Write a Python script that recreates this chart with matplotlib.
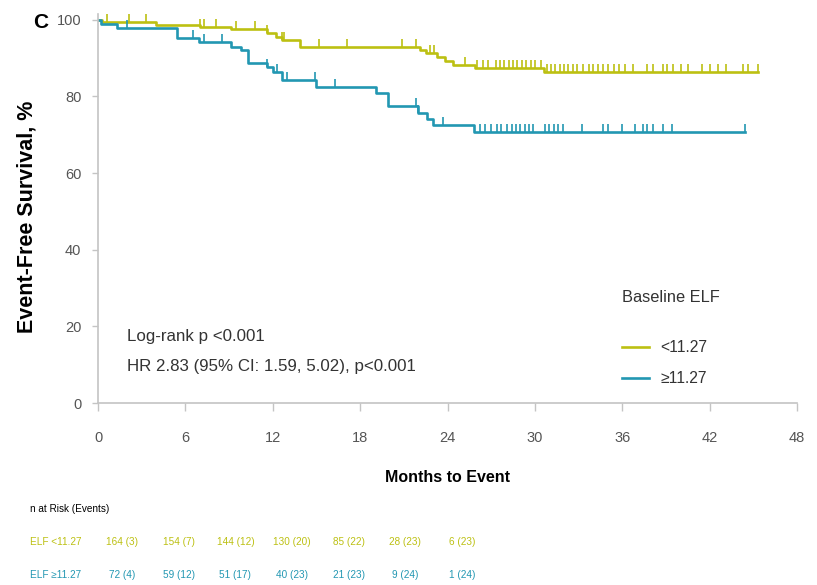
import numpy as np
import matplotlib
matplotlib.use("Agg")
import matplotlib.pyplot as plt

plt.rcParams['font.family'] = ['Liberation Sans', 'DejaVu Sans']

# ==== data ====
# step times (months) and survival (%) after each step
low_t = [0, 0.3, 4.0, 7.0, 9.1, 11.6, 12.2, 12.6, 13.9, 22.1, 22.5, 23.3, 23.8, 24.4, 25.9, 30.6, 45.3]
low_s = [100, 99.3, 98.7, 98.2, 97.6, 96.5, 95.5, 94.6, 92.9, 92.2, 91.3, 90.3, 89.3, 88.3, 87.5, 86.5, 86.5]
high_t = [0, 0.2, 1.3, 5.4, 6.9, 9.1, 9.8, 10.3, 11.6, 12.0, 12.6, 15.0, 19.1, 19.9, 22.0, 22.6, 23.0, 25.8, 44.4]
high_s = [100, 99.0, 97.9, 95.3, 94.3, 93.0, 92.0, 88.8, 87.7, 86.4, 84.2, 82.5, 81.0, 77.5, 75.6, 74.0, 72.5, 70.8, 70.8]

# censored times
low_cens = [0.6, 2.1, 3.3, 7.0, 7.3, 8.1, 9.5, 10.8, 11.6, 12.6, 12.8, 15.2, 17.1, 20.9, 21.8,
            22.8, 23.1, 25.2, 26.0, 26.4, 26.8, 27.3, 27.6, 27.9, 28.2, 28.5, 28.8, 29.1, 29.4, 29.7,
            30.0, 30.4, 30.8, 31.1, 31.4, 31.7, 32.0, 32.3, 32.6, 32.9, 33.3, 33.7, 34.0, 34.3, 34.7,
            35.0, 35.4, 35.8, 36.2, 36.7, 37.7, 38.1, 38.8, 39.1, 39.5, 40.0, 40.5, 41.5, 42.0, 42.6,
            43.1, 44.3, 44.6, 45.3]
high_cens = [2.0, 6.5, 7.3, 8.5, 11.6, 12.3, 13.0, 14.9, 16.3, 21.8, 22.0, 23.7,
             26.2, 26.6, 27.0, 27.4, 27.7, 28.1, 28.4, 28.7, 29.0, 29.3, 29.6, 29.9,
             30.7, 31.0, 31.3, 31.6, 31.9, 33.2, 34.7, 35.0, 36.0, 36.9, 37.4, 37.7, 38.1,
             38.8, 39.4, 44.4]

labels = ['<11.27', '≥11.27']
row_names = ['ELF <11.27', 'ELF ≥11.27']
risk_low = ['164 (3)', '154 (7)', '144 (12)', '130 (20)', '85 (22)', '28 (23)', '6 (23)']
risk_high = ['72 (4)', '59 (12)', '51 (17)', '40 (23)', '21 (23)', '9 (24)', '1 (24)']

c_low = '#bcc012'
c_high = '#2297b2'
grey = '#c4c4c4'


def surv_at(t, st, ss):
    idx = np.searchsorted(st, t, side='right') - 1
    return np.array(ss)[idx]


fig = plt.figure(figsize=(8.17, 5.85), dpi=100)
ax = fig.add_axes([0.12, 0.311, 0.8556, 0.665])

l1, = ax.plot(low_t, low_s, drawstyle='steps-post', color=c_low, lw=1.9)
l2, = ax.plot(high_t, high_s, drawstyle='steps-post', color=c_high, lw=1.9)
ax.plot(low_cens, surv_at(low_cens, low_t, low_s), ls='none', marker=2, ms=6, mew=1.2, color=c_low)
ax.plot(high_cens, surv_at(high_cens, high_t, high_s), ls='none', marker=2, ms=6, mew=1.2, color=c_high)

ax.set_xlim(0, 48)
ax.set_ylim(0, 101.5)
ax.set_xticks(range(0, 49, 6))
ax.set_yticks(range(0, 101, 20))
for s in ['top', 'right']:
    ax.spines[s].set_visible(False)
for s in ['left', 'bottom']:
    ax.spines[s].set_color(grey)
    ax.spines[s].set_linewidth(1.2)
ax.tick_params(axis='x', length=6, width=1, color=grey, pad=14, labelsize=10.5, labelcolor='#555555')
ax.tick_params(axis='y', length=4, width=1, color=grey, pad=8, labelsize=10.5, labelcolor='#555555')

ax.set_xlabel('Months to Event', fontsize=11.5, fontweight='bold', labelpad=18)
ax.set_ylabel('Event-Free Survival, %', fontsize=15.5, fontweight='bold')
ax.yaxis.set_label_coords(-0.087, 0.48)

fig.text(0.05, 0.962, 'C', fontsize=15, fontweight='bold', ha='center', va='center')

ax.text(0.0415, 0.170, 'Log-rank p <0.001', fontsize=12.2, va='center', color='#333333',
        transform=ax.transAxes)
ax.text(0.0415, 0.095, 'HR 2.83 (95% CI: 1.59, 5.02), p<0.001', fontsize=12.2, va='center',
        color='#333333', transform=ax.transAxes)

ax.text(0.75, 0.2725, 'Baseline ELF', fontsize=11.8, va='center', color='#333333',
        transform=ax.transAxes)
ax.legend([l1, l2], labels, loc='upper left', bbox_to_anchor=(0.7496, 0.161), frameon=False,
          fontsize=11.3, handlelength=1.7, handletextpad=0.75, labelspacing=1.0,
          borderpad=0, borderaxespad=0, labelcolor='#333333')

# ==== number at risk table ====
xs = np.linspace(122, 462, 7) / 817
fs = 7.2
fig.text(30 / 817, 1 - 509 / 585, 'n at Risk (Events)', fontsize=fs, va='center')
fig.text(30 / 817, 1 - 542 / 585, row_names[0], fontsize=fs, va='center', color=c_low)
fig.text(30 / 817, 1 - 575 / 585, row_names[1], fontsize=fs, va='center', color=c_high)
for x, a, b in zip(xs, risk_low, risk_high):
    fig.text(x, 1 - 542 / 585, a, fontsize=fs, va='center', ha='center', color=c_low)
    fig.text(x, 1 - 575 / 585, b, fontsize=fs, va='center', ha='center', color=c_high)

fig.savefig('out.png', dpi=100)
